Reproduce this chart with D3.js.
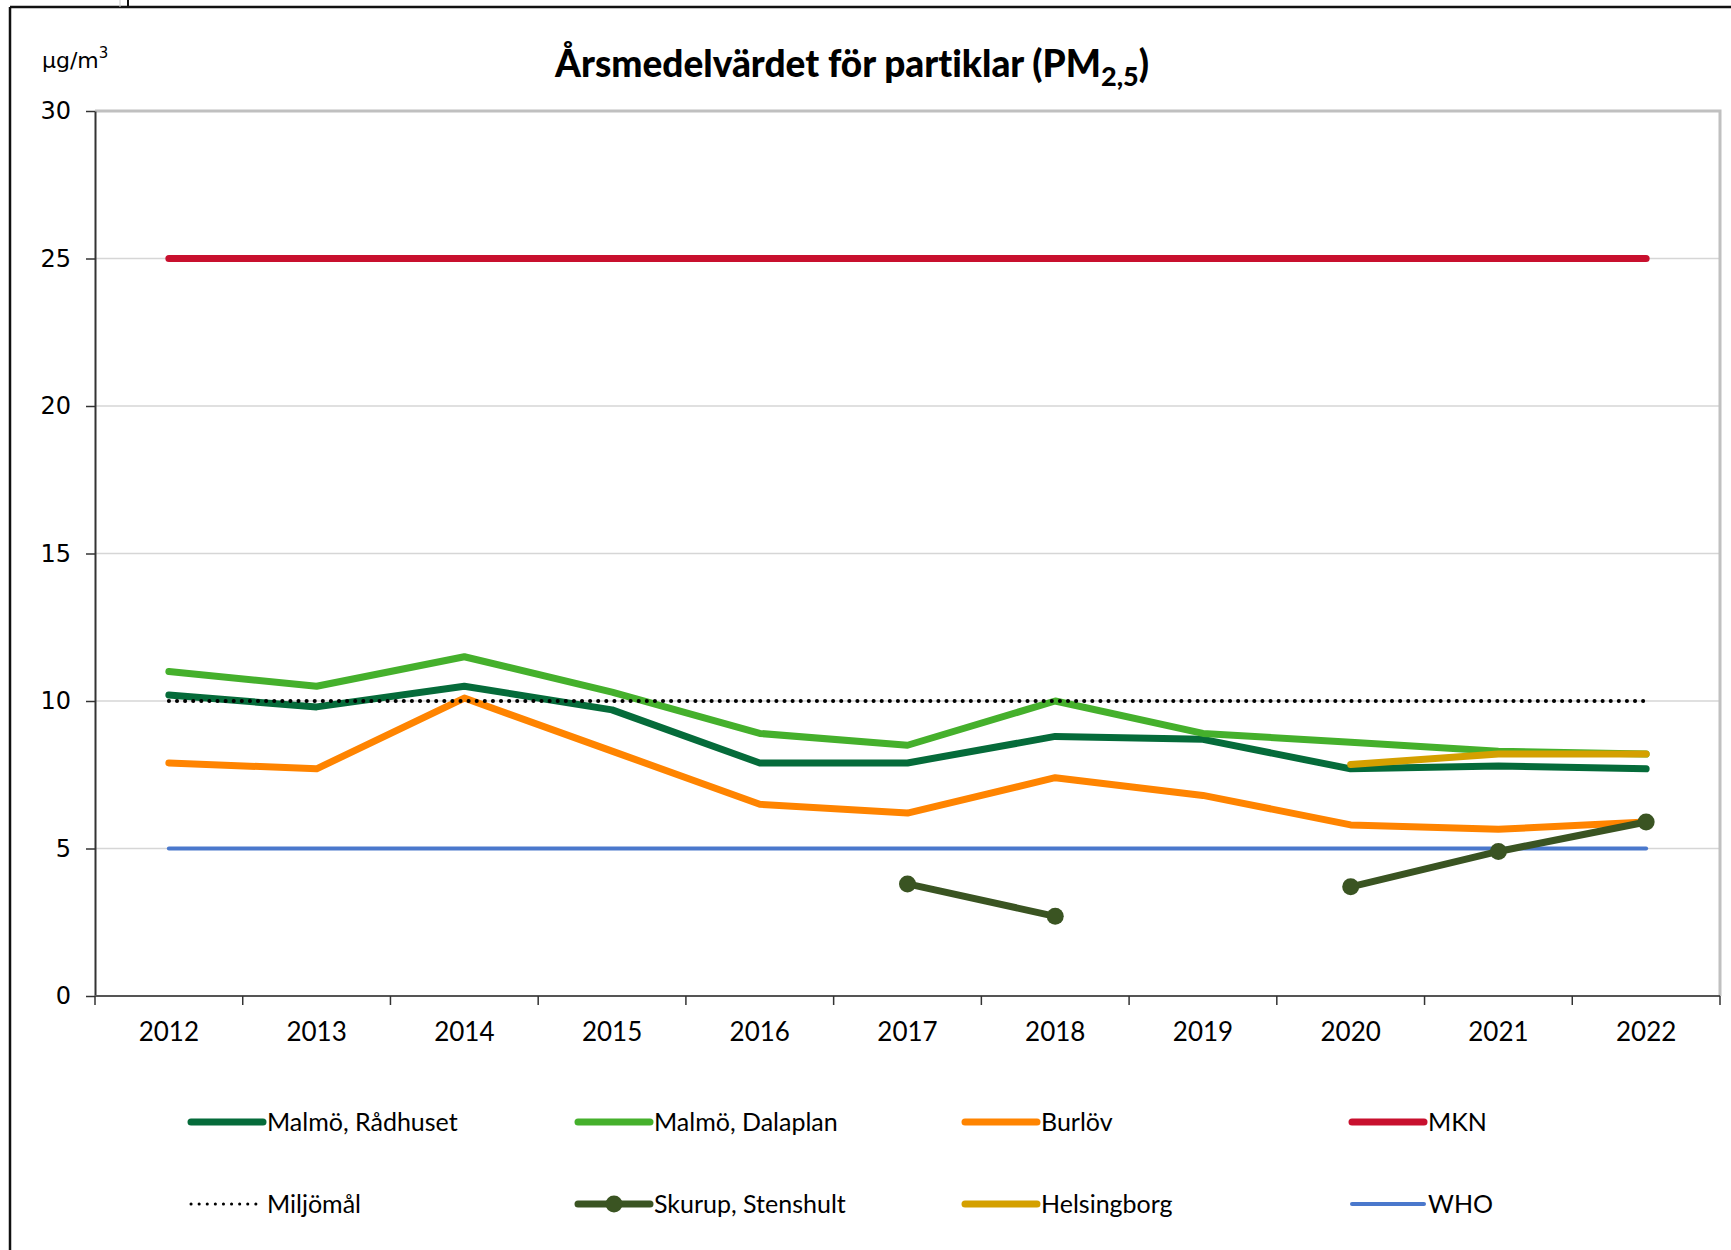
<!DOCTYPE html>
<html>
<head>
<meta charset="utf-8">
<script src="https://cdn.jsdelivr.net/npm/d3@7"></script>
<style>
  body { margin: 0; background: #fff; }
  svg { display: block; }
  text { font-variant-ligatures: none; }
</style>
</head>
<body>
<script>
// Data
const years = ["2012", "2013", "2014", "2015", "2016", "2017", "2018", "2019", "2020", "2021", "2022"];
const radhuset   = [10.2, 9.8, 10.5, 9.7, 7.9, 7.9, 8.8, 8.7, 7.7, 7.8, 7.7];
const dalaplan   = [11.0, 10.5, 11.5, 10.3, 8.9, 8.5, 10.0, 8.9, 8.6, 8.3, 8.2];
const burlov     = [7.9, 7.7, 10.1, 8.3, 6.5, 6.2, 7.4, 6.8, 5.8, 5.65, 5.9];
const mkn        = [25, 25, 25, 25, 25, 25, 25, 25, 25, 25, 25];
const miljomal   = [10, 10, 10, 10, 10, 10, 10, 10, 10, 10, 10];
const skurup     = [null, null, null, null, null, 3.8, 2.7, null, 3.7, 4.9, 5.9];
const helsingborg = [null, null, null, null, null, null, null, null, 7.85, 8.2, 8.2];
const who        = [5, 5, 5, 5, 5, 5, 5, 5, 5, 5, 5];
const yTicks = [0, 5, 10, 15, 20, 25, 30];

const series = [
  { name: "Malmö, Rådhuset", values: radhuset, color: "#056b3a", width: 7 },
  { name: "Malmö, Dalaplan", values: dalaplan, color: "#45b02c", width: 7 },
  { name: "Burlöv", values: burlov, color: "#ff8400", width: 7 },
  { name: "MKN", values: mkn, color: "#c8102e", width: 7 },
  { name: "Miljömål", values: miljomal, color: "#000", width: 3, dotted: true },
  { name: "Skurup, Stenshult", values: skurup, color: "#3a5422", width: 7, marker: true },
  { name: "Helsingborg", values: helsingborg, color: "#d4a000", width: 7 },
  { name: "WHO", values: who, color: "#4a78cc", width: 4 }
];
const drawOrder = ["MKN", "WHO", "Malmö, Rådhuset", "Malmö, Dalaplan", "Burlöv", "Miljömål", "Helsingborg", "Skurup, Stenshult"];

const width = 1731, height = 1250;
const plot = { left: 95, right: 1720, top: 111, bottom: 996 };

const svg = d3.select("body").append("svg")
  .attr("width", width)
  .attr("height", height);

// outer frame (clipped screenshot border)
svg.append("line").attr("x1", 10).attr("x2", 10).attr("y1", 7).attr("y2", height).attr("stroke", "#111").attr("stroke-width", 2.5);
svg.append("line").attr("x1", 10).attr("x2", width).attr("y1", 7).attr("y2", 7).attr("stroke", "#111").attr("stroke-width", 2.5);
svg.append("line").attr("x1", 128).attr("x2", 128).attr("y1", 0).attr("y2", 7).attr("stroke", "#111").attr("stroke-width", 2);
svg.append("line").attr("x1", 120).attr("x2", 120).attr("y1", 0).attr("y2", 7).attr("stroke", "#ccc").attr("stroke-width", 1);

const x = d3.scaleBand()
  .domain(years)
  .range([plot.left, plot.right])
  .padding(0);

const y = d3.scaleLinear()
  .domain([0, 30])
  .range([plot.bottom, plot.top]);

const cx = d => x(d) + x.bandwidth() / 2;

// gridlines
svg.append("g")
  .selectAll("line")
  .data(yTicks.filter(t => t > 0))
  .enter().append("line")
  .attr("x1", plot.left).attr("x2", plot.right)
  .attr("y1", d => y(d)).attr("y2", d => y(d))
  .attr("stroke", "#d6d6d6").attr("stroke-width", 1.5);

// plot frame top / right
svg.append("path")
  .attr("d", `M${plot.left},${plot.top}H${plot.right}V${plot.bottom}`)
  .attr("fill", "none").attr("stroke", "#c0c0c0").attr("stroke-width", 3);

// y axis
svg.append("g")
  .attr("transform", `translate(${plot.left},0)`)
  .call(d3.axisLeft(y).tickValues(yTicks).tickSize(9).tickPadding(15).tickSizeOuter(0))
  .call(g => g.select(".domain").attr("stroke", "#333").attr("stroke-width", 2))
  .call(g => g.selectAll(".tick line").attr("stroke", "#333").attr("stroke-width", 1.5))
  .call(g => g.selectAll(".tick text")
    .attr("font-family", "DejaVu Sans, sans-serif")
    .attr("font-size", 24)
    .attr("fill", "#000"));

// x axis labels
svg.append("g")
  .attr("transform", `translate(0,${plot.bottom})`)
  .call(d3.axisBottom(x).tickSize(0).tickPadding(27))
  .call(g => g.select(".domain").remove())
  .call(g => g.selectAll(".tick text")
    .attr("font-family", "Lato, sans-serif")
    .attr("font-size", 26)
    .attr("fill", "#000"));

// x axis line and boundary ticks
svg.append("line")
  .attr("x1", plot.left).attr("x2", plot.right)
  .attr("y1", plot.bottom).attr("y2", plot.bottom)
  .attr("stroke", "#555").attr("stroke-width", 2);
svg.append("g")
  .selectAll("line")
  .data(years.map(d => x(d)).concat([plot.right]))
  .enter().append("line")
  .attr("x1", d => d).attr("x2", d => d)
  .attr("y1", plot.bottom).attr("y2", plot.bottom + 9)
  .attr("stroke", "#333").attr("stroke-width", 1.5);

// lines
const line = d3.line()
  .defined(d => d.v != null)
  .x(d => cx(d.year))
  .y(d => y(d.v));

const byName = new Map(series.map(s => [s.name, s]));
drawOrder.forEach(name => {
  const s = byName.get(name);
  const pts = years.map((yr, i) => ({ year: yr, v: s.values[i] }));
  svg.append("path")
    .datum(pts)
    .attr("d", line)
    .attr("fill", "none")
    .attr("stroke", s.color)
    .attr("stroke-linejoin", "round")
    .attr("stroke-linecap", "round")
    .attr("stroke-dasharray", s.dotted ? "0.1 8" : null)
    .attr("stroke-width", s.dotted ? 4 : s.width);
  if (s.marker) {
    svg.append("g")
      .selectAll("circle")
      .data(pts.filter(d => d.v != null))
      .enter().append("circle")
      .attr("cx", d => cx(d.year))
      .attr("cy", d => y(d.v))
      .attr("r", 8.5)
      .attr("fill", s.color);
  }
});

// title
const title = svg.append("text")
  .attr("x", 852).attr("y", 77)
  .attr("text-anchor", "middle")
  .attr("font-family", "Lato, sans-serif")
  .attr("font-weight", 900)
  .attr("font-size", 37)
  .attr("fill", "#000");
title.append("tspan").text("Årsmedelvärdet för partiklar (PM");
title.append("tspan").attr("font-size", 27).attr("dy", 9).text("2,5");
title.append("tspan").attr("dy", -9).text(")");

// unit
const unit = svg.append("text")
  .attr("x", 42).attr("y", 68)
  .attr("font-family", "DejaVu Sans, sans-serif")
  .attr("font-size", 22)
  .attr("fill", "#000");
unit.append("tspan").text("µg/m");
unit.append("tspan").attr("font-size", 15).attr("dy", -10).text("3");

// legend
const legendCols = [191, 578, 965, 1352];
const legendRows = [1122, 1204];
const leg = svg.append("g")
  .selectAll("g")
  .data(series)
  .enter().append("g")
  .attr("transform", (d, i) => `translate(${legendCols[i % 4]},${legendRows[Math.floor(i / 4)]})`);

leg.append("line")
  .attr("x1", 0).attr("x2", 72)
  .attr("stroke", d => d.color)
  .attr("stroke-width", d => d.dotted ? 3 : d.width === 4 ? 4 : 7)
  .attr("stroke-linecap", "round")
  .attr("stroke-dasharray", d => d.dotted ? "0.1 8" : null);
leg.filter(d => d.marker).append("circle")
  .attr("cx", 36).attr("r", 8.5)
  .attr("fill", d => d.color);
leg.append("text")
  .attr("x", 76).attr("dy", "0.35em")
  .attr("font-family", "Lato, sans-serif")
  .attr("font-size", 25)
  .attr("fill", "#000")
  .text(d => d.name);
</script>
</body>
</html>
